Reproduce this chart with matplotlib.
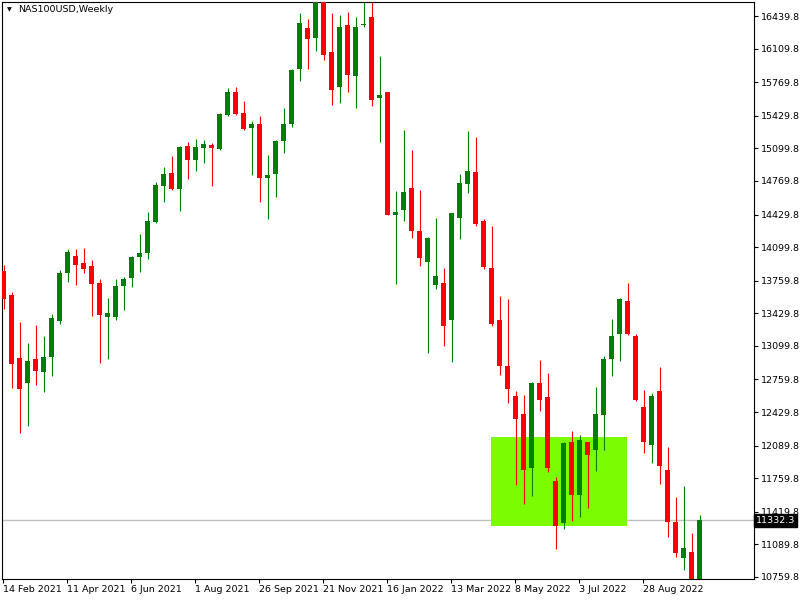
import numpy as np
import matplotlib.pyplot as plt
from matplotlib.patches import Rectangle

symbol = "NAS100USD,Weekly"

# weekly candles, first one is the week of 14 Feb 2021
opens = [13858, 13615, 12977, 12724, 12967, 12835, 12987, 13352, 13838, 14010,
         13939, 13909, 13737, 13392, 13392, 13706, 13787, 14000, 14040, 14354,
         14719, 14850, 14688, 15124, 14982, 15104, 15134, 15093, 15438, 15671,
         15458, 15306, 15347, 14800, 14840, 15174, 15347, 15903, 16319, 16217,
         16590, 16075, 15721, 16349, 15832, 16349, 16430, 15610, 15671, 14425,
         14476, 14698, 14263, 13949, 13716, 13737, 13362, 14395, 14739, 14860,
         14364, 13888, 13362, 12896, 12592, 12410, 11864, 12724, 12582, 11732,
         11307, 12127, 11590, 12127, 12046, 12400, 12967, 13220, 13554, 13200,
         12481, 12096, 12643, 11843, 11317, 10952, 11013, 10680]
highs = [13919, 13645, 13342, 13129, 13311, 13200, 13423, 13868, 14081, 14081,
         14091, 13969, 13777, 13585, 13777, 13797, 14010, 14233, 14455, 14759,
         14911, 15022, 15124, 15164, 15195, 15185, 15154, 15458, 15711, 15721,
         15579, 15377, 15428, 15033, 15180, 15509, 15900, 16470, 16410, 16620,
         16640, 16470, 16450, 16480, 16430, 16600, 16620, 16035, 15675, 14668,
         15286, 15083, 14678, 14202, 14395, 13888, 14450, 14840, 15276, 15215,
         14385, 14314, 13605, 13575, 12643, 12603, 12734, 12957, 12825, 11772,
         12127, 12238, 12198, 12130, 12684, 12997, 13372, 13580, 13737, 13220,
         12653, 12623, 12886, 12076, 11570, 11681, 11205, 11388]
lows = [13473, 12673, 12218, 12289, 12704, 12633, 12795, 13321, 13747, 13716,
        13838, 13402, 12927, 12967, 13362, 13463, 13696, 13848, 13980, 14344,
        14557, 14678, 14466, 14790, 14871, 14952, 14719, 15088, 15428, 15438,
        15290, 14830, 14557, 14385, 14607, 15053, 15316, 15782, 15903, 16086,
        15994, 15539, 15559, 15671, 15509, 16329, 15529, 15164, 14420, 13726,
        14364, 14192, 13909, 13028, 13676, 13099, 12937, 14182, 14648, 14314,
        13878, 13301, 12805, 12522, 11691, 11499, 11580, 12441, 11823, 11043,
        11246, 11327, 11367, 11458, 11833, 12046, 12795, 12947, 13210, 12542,
        12015, 11914, 11701, 11165, 10962, 10831, 10440, 10600]
closes = [13575, 12916, 12663, 12947, 12846, 12987, 13382, 13838, 14050, 13919,
          13878, 13726, 13413, 13433, 13706, 13777, 14000, 14040, 14364, 14729,
          14840, 14688, 15114, 14982, 15114, 15144, 15104, 15448, 15671, 15448,
          15296, 15347, 14800, 14830, 15174, 15347, 15893, 16369, 16207, 16590,
          16045, 15691, 16329, 15843, 16329, 16359, 15589, 15640, 14425, 14455,
          14658, 14263, 13990, 14192, 13807, 13301, 14445, 14749, 14871, 14334,
          13899, 13321, 12896, 12663, 12360, 11843, 12724, 12552, 11864, 11276,
          12117, 11590, 12147, 11995, 12410, 12967, 13200, 13575, 13220, 12552,
          12127, 12592, 11884, 11317, 11003, 11053, 10690, 11332.3]

# one date label every 8 weeks
date_labels = ["14 Feb 2021", "11 Apr 2021", "6 Jun 2021", "1 Aug 2021",
               "26 Sep 2021", "21 Nov 2021", "16 Jan 2022", "13 Mar 2022",
               "8 May 2022", "3 Jul 2022", "28 Aug 2022"]
label_step = 8

price_labels = [16439.8, 16109.8, 15769.8, 15429.8, 15099.8, 14769.8, 14429.8,
                14099.8, 13759.8, 13429.8, 13099.8, 12759.8, 12429.8, 12089.8,
                11759.8, 11419.8, 11089.8, 10759.8]
last_price = 11332.3

# green zone drawn on the chart (candle index range, price range)
zone_from, zone_to = 61, 78
zone_low, zone_high = 11279, 12180

o = np.array(opens, dtype=float)
h = np.array(highs, dtype=float)
l = np.array(lows, dtype=float)
c = np.array(closes, dtype=float)
x = np.arange(len(o))

up = c >= o
colors = np.where(up, "#008000", "#FF0000")

fig = plt.figure(figsize=(8, 6), dpi=100)
ax = fig.add_axes([2/800, 21/600, 752/800, 577/600])

ax.add_patch(Rectangle((zone_from - 0.06, zone_low), zone_to - zone_from,
                       zone_high - zone_low, facecolor="#7CFC00",
                       edgecolor="none", zorder=1))
ax.axhline(last_price, color="#C0C0C0", lw=1.0, zorder=0.5)

# wicks, then bodies on top
ax.vlines(x, l, h, colors=colors, lw=0.8, zorder=2)
body_low = np.minimum(o, c)
body_h = np.maximum(np.abs(c - o), 9)
ax.bar(x, body_h, bottom=body_low, width=0.64, color=colors,
       linewidth=0, zorder=3)

ax.set_xlim(-0.19, 93.81)
ax.set_ylim(10739, 16582)

ax.yaxis.tick_right()
ax.set_yticks(price_labels)
ax.set_yticklabels([f"{v:.1f}" for v in price_labels])
ticks = [i * label_step - 0.06 for i in range(len(date_labels))]
ax.set_xticks(ticks)
ax.set_xticklabels(date_labels, ha="left")
ax.tick_params(axis="y", direction="out", length=3, width=0.8, pad=2,
               labelsize=6.8)
ax.tick_params(axis="x", direction="out", length=3, width=0.8, pad=1.5,
               labelsize=6.8)
for s in ax.spines.values():
    s.set_linewidth(0.8)

ax.text(1.002, last_price, f"{last_price:.1f}", transform=ax.get_yaxis_transform(),
        ha="left", va="center", color="white", fontsize=6.8, zorder=10,
        clip_on=False,
        bbox=dict(boxstyle="square,pad=0.2", facecolor="black", edgecolor="black"))

fig.text(9/800, 1 - 10/600, "\u25bc", fontsize=4.5, ha="center", va="center")
fig.text(18/800, 1 - 10/600, symbol, fontsize=6.8, ha="left", va="center")

fig.savefig("out.png", dpi=100)
plt.close()
